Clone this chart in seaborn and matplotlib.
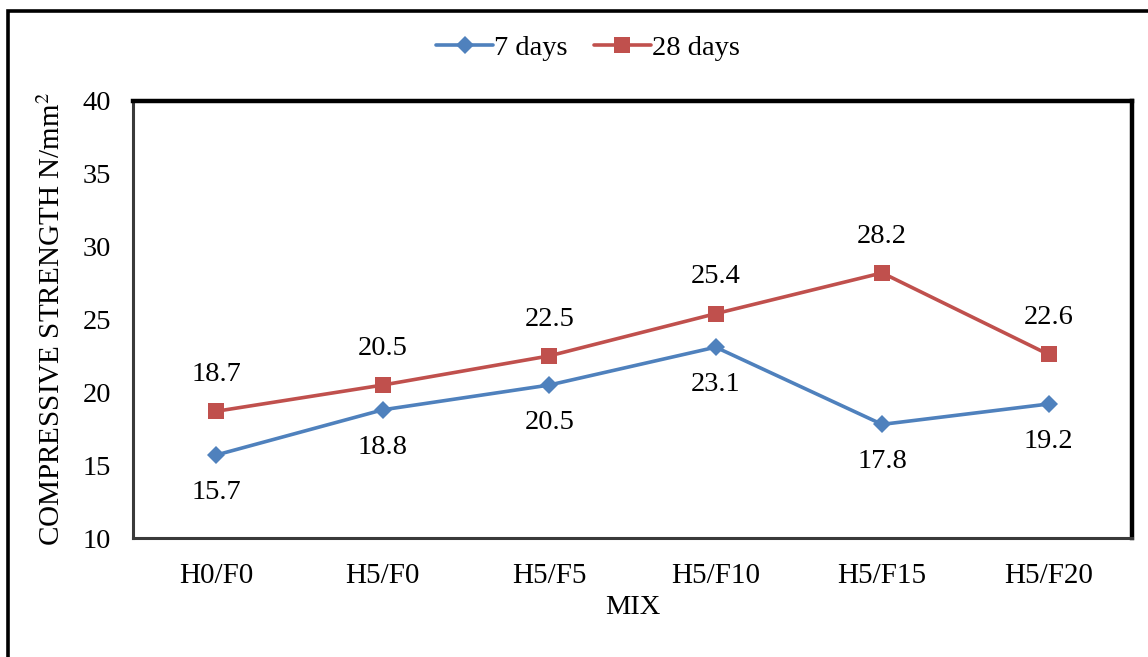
import matplotlib
matplotlib.use('Agg')
import matplotlib.pyplot as plt
import seaborn as sns
import pandas as pd
from matplotlib.patches import Rectangle

# data
mixes = ['H0/F0', 'H5/F0', 'H5/F5', 'H5/F10', 'H5/F15', 'H5/F20']
days7 = [15.7, 18.8, 20.5, 23.1, 17.8, 19.2]
days28 = [18.7, 20.5, 22.5, 25.4, 28.2, 22.6]
yticks = [10, 15, 20, 25, 30, 35, 40]

df = pd.DataFrame({
    'mix': mixes * 2,
    'strength': days7 + days28,
    'series': ['7 days'] * len(mixes) + ['28 days'] * len(mixes),
})

sns.set_style('white')
plt.rcParams['font.family'] = ['Liberation Serif', 'DejaVu Serif']
plt.rcParams['mathtext.fontset'] = 'stix'
plt.rcParams['text.color'] = 'black'
plt.rcParams['axes.labelcolor'] = 'black'
plt.rcParams['xtick.color'] = 'black'
plt.rcParams['ytick.color'] = 'black'

fig = plt.figure(figsize=(11.48, 6.57), dpi=100)
ax = fig.add_axes([0.1159, 0.1811, 0.8700, 0.6652])

colors = {'7 days': '#4F81BD', '28 days': '#C0504D'}
sns.lineplot(data=df, x='mix', y='strength', hue='series', style='series',
             palette=colors, markers={'7 days': 'D', '28 days': 's'},
             dashes=False, sort=False, linewidth=2.6, ax=ax,
             markeredgewidth=0)
for line in ax.lines:
    if line.get_marker() == 'D':
        line.set_markersize(9.2)
    elif line.get_marker() == 's':
        line.set_markersize(12)

# data labels
for i, (a, b) in enumerate(zip(days7, days28)):
    ax.annotate(f'{a}', (i, a), xytext=(0, -27), textcoords='offset points',
                ha='center', va='center', fontsize=20.5)
    ax.annotate(f'{b}', (i, b), xytext=(0, 26.5), textcoords='offset points',
                ha='center', va='center', fontsize=20.5)

ax.set_xlim(-0.5, len(mixes) - 0.5)
ax.set_ylim(10, 40)
ax.set_yticks(yticks)
ax.tick_params(axis='y', labelsize=20.5, length=0, pad=16)
ax.tick_params(axis='x', labelsize=21, length=0, pad=18)
ax.set_xlabel('MIX', fontsize=20.5, labelpad=4)
ax.set_ylabel('COMPRESSIVE STRENGTH N/mm$^2$', fontsize=21, labelpad=12)

for side in ['top', 'right']:
    ax.spines[side].set_linewidth(3.2)
    ax.spines[side].set_color('black')
for side in ['left', 'bottom']:
    ax.spines[side].set_linewidth(2.2)
    ax.spines[side].set_color('#3a3a3a')

handles, labels = ax.get_legend_handles_labels()
ax.get_legend().remove()
leg = fig.legend(handles, labels, loc='center', bbox_to_anchor=(588 / 1148, 1 - 48 / 657),
                 ncol=2, frameon=False, fontsize=20.5, handlelength=2.0,
                 handletextpad=0.05, columnspacing=0.9)
for h in leg.legend_handles:
    h.set_linewidth(2.6)

# outer chart frame (cut off on the right and bottom)
fig.patches.append(Rectangle((8 / 1148, -0.2), 1.5, 1.2 - 11 / 657,
                             transform=fig.transFigure, fill=False,
                             edgecolor='black', linewidth=2.6, clip_on=False))

fig.savefig('out.png', dpi=100)
